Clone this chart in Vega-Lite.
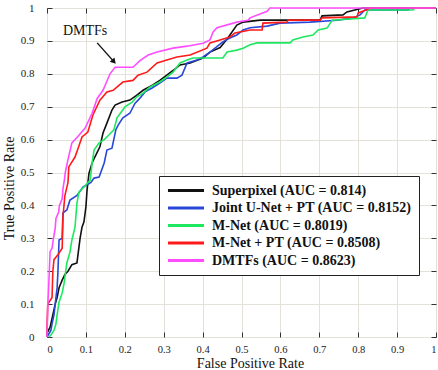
{
  "$schema": "https://vega.github.io/schema/vega-lite/v6.json",
  "width": 389,
  "height": 329,
  "autosize": "none",
  "padding": {"left": 47, "top": 8, "right": 2, "bottom": 33},
  "background": "white",
  "config": {
    "font": "Liberation Serif",
    "view": {"stroke": "#3a3a3a", "strokeWidth": 1},
    "axis": {
      "labelFont": "Liberation Serif",
      "labelFontSize": 10.5,
      "labelColor": "#222222",
      "titleFont": "Liberation Serif",
      "titleFontSize": 14,
      "titleFontWeight": "normal",
      "titleColor": "#111111",
      "gridColor": "#e3e1da",
      "gridOpacity": 1,
      "domain": false,
      "tickColor": "#333333",
      "tickSize": -5
    }
  },
  "resolve": {"axis": {"x": "independent", "y": "independent"}},
  "datasets": {
    "curves": [
      {"s": "Superpixel (AUC = 0.814)", "i": 0, "x": 0, "y": 0},
      {"s": "Superpixel (AUC = 0.814)", "i": 1, "x": 0, "y": 0.012},
      {"s": "Superpixel (AUC = 0.814)", "i": 2, "x": 0.008, "y": 0.03},
      {"s": "Superpixel (AUC = 0.814)", "i": 3, "x": 0.015, "y": 0.067},
      {"s": "Superpixel (AUC = 0.814)", "i": 4, "x": 0.021, "y": 0.1},
      {"s": "Superpixel (AUC = 0.814)", "i": 5, "x": 0.026, "y": 0.12},
      {"s": "Superpixel (AUC = 0.814)", "i": 6, "x": 0.031, "y": 0.15},
      {"s": "Superpixel (AUC = 0.814)", "i": 7, "x": 0.039, "y": 0.173},
      {"s": "Superpixel (AUC = 0.814)", "i": 8, "x": 0.046, "y": 0.19},
      {"s": "Superpixel (AUC = 0.814)", "i": 9, "x": 0.054, "y": 0.2},
      {"s": "Superpixel (AUC = 0.814)", "i": 10, "x": 0.064, "y": 0.22},
      {"s": "Superpixel (AUC = 0.814)", "i": 11, "x": 0.077, "y": 0.225},
      {"s": "Superpixel (AUC = 0.814)", "i": 12, "x": 0.085, "y": 0.3},
      {"s": "Superpixel (AUC = 0.814)", "i": 13, "x": 0.09, "y": 0.334},
      {"s": "Superpixel (AUC = 0.814)", "i": 14, "x": 0.095, "y": 0.35},
      {"s": "Superpixel (AUC = 0.814)", "i": 15, "x": 0.1, "y": 0.395},
      {"s": "Superpixel (AUC = 0.814)", "i": 16, "x": 0.103, "y": 0.447},
      {"s": "Superpixel (AUC = 0.814)", "i": 17, "x": 0.108, "y": 0.498},
      {"s": "Superpixel (AUC = 0.814)", "i": 18, "x": 0.116, "y": 0.529},
      {"s": "Superpixel (AUC = 0.814)", "i": 19, "x": 0.123, "y": 0.547},
      {"s": "Superpixel (AUC = 0.814)", "i": 20, "x": 0.136, "y": 0.578},
      {"s": "Superpixel (AUC = 0.814)", "i": 21, "x": 0.144, "y": 0.62},
      {"s": "Superpixel (AUC = 0.814)", "i": 22, "x": 0.154, "y": 0.65},
      {"s": "Superpixel (AUC = 0.814)", "i": 23, "x": 0.167, "y": 0.69},
      {"s": "Superpixel (AUC = 0.814)", "i": 24, "x": 0.175, "y": 0.705},
      {"s": "Superpixel (AUC = 0.814)", "i": 25, "x": 0.193, "y": 0.714},
      {"s": "Superpixel (AUC = 0.814)", "i": 26, "x": 0.213, "y": 0.72},
      {"s": "Superpixel (AUC = 0.814)", "i": 27, "x": 0.231, "y": 0.735},
      {"s": "Superpixel (AUC = 0.814)", "i": 28, "x": 0.247, "y": 0.75},
      {"s": "Superpixel (AUC = 0.814)", "i": 29, "x": 0.272, "y": 0.766},
      {"s": "Superpixel (AUC = 0.814)", "i": 30, "x": 0.29, "y": 0.78},
      {"s": "Superpixel (AUC = 0.814)", "i": 31, "x": 0.308, "y": 0.796},
      {"s": "Superpixel (AUC = 0.814)", "i": 32, "x": 0.324, "y": 0.81},
      {"s": "Superpixel (AUC = 0.814)", "i": 33, "x": 0.342, "y": 0.827},
      {"s": "Superpixel (AUC = 0.814)", "i": 34, "x": 0.368, "y": 0.833},
      {"s": "Superpixel (AUC = 0.814)", "i": 35, "x": 0.401, "y": 0.848},
      {"s": "Superpixel (AUC = 0.814)", "i": 36, "x": 0.419, "y": 0.866},
      {"s": "Superpixel (AUC = 0.814)", "i": 37, "x": 0.445, "y": 0.88},
      {"s": "Superpixel (AUC = 0.814)", "i": 38, "x": 0.463, "y": 0.906},
      {"s": "Superpixel (AUC = 0.814)", "i": 39, "x": 0.488, "y": 0.948},
      {"s": "Superpixel (AUC = 0.814)", "i": 40, "x": 0.504, "y": 0.957},
      {"s": "Superpixel (AUC = 0.814)", "i": 41, "x": 0.548, "y": 0.963},
      {"s": "Superpixel (AUC = 0.814)", "i": 42, "x": 0.702, "y": 0.963},
      {"s": "Superpixel (AUC = 0.814)", "i": 43, "x": 0.707, "y": 0.976},
      {"s": "Superpixel (AUC = 0.814)", "i": 44, "x": 0.761, "y": 0.979},
      {"s": "Superpixel (AUC = 0.814)", "i": 45, "x": 0.771, "y": 0.988},
      {"s": "Superpixel (AUC = 0.814)", "i": 46, "x": 0.812, "y": 1},
      {"s": "Superpixel (AUC = 0.814)", "i": 47, "x": 1, "y": 1},

      {"s": "Joint U-Net + PT (AUC = 0.8152)", "i": 0, "x": 0, "y": 0},
      {"s": "Joint U-Net + PT (AUC = 0.8152)", "i": 1, "x": 0.01, "y": 0.02},
      {"s": "Joint U-Net + PT (AUC = 0.8152)", "i": 2, "x": 0.013, "y": 0.04},
      {"s": "Joint U-Net + PT (AUC = 0.8152)", "i": 3, "x": 0.018, "y": 0.067},
      {"s": "Joint U-Net + PT (AUC = 0.8152)", "i": 4, "x": 0.023, "y": 0.12},
      {"s": "Joint U-Net + PT (AUC = 0.8152)", "i": 5, "x": 0.026, "y": 0.15},
      {"s": "Joint U-Net + PT (AUC = 0.8152)", "i": 6, "x": 0.028, "y": 0.195},
      {"s": "Joint U-Net + PT (AUC = 0.8152)", "i": 7, "x": 0.031, "y": 0.295},
      {"s": "Joint U-Net + PT (AUC = 0.8152)", "i": 8, "x": 0.039, "y": 0.3},
      {"s": "Joint U-Net + PT (AUC = 0.8152)", "i": 9, "x": 0.041, "y": 0.377},
      {"s": "Joint U-Net + PT (AUC = 0.8152)", "i": 10, "x": 0.051, "y": 0.386},
      {"s": "Joint U-Net + PT (AUC = 0.8152)", "i": 11, "x": 0.059, "y": 0.416},
      {"s": "Joint U-Net + PT (AUC = 0.8152)", "i": 12, "x": 0.077, "y": 0.43},
      {"s": "Joint U-Net + PT (AUC = 0.8152)", "i": 13, "x": 0.093, "y": 0.456},
      {"s": "Joint U-Net + PT (AUC = 0.8152)", "i": 14, "x": 0.113, "y": 0.47},
      {"s": "Joint U-Net + PT (AUC = 0.8152)", "i": 15, "x": 0.121, "y": 0.483},
      {"s": "Joint U-Net + PT (AUC = 0.8152)", "i": 16, "x": 0.134, "y": 0.486},
      {"s": "Joint U-Net + PT (AUC = 0.8152)", "i": 17, "x": 0.147, "y": 0.529},
      {"s": "Joint U-Net + PT (AUC = 0.8152)", "i": 18, "x": 0.154, "y": 0.568},
      {"s": "Joint U-Net + PT (AUC = 0.8152)", "i": 19, "x": 0.167, "y": 0.574},
      {"s": "Joint U-Net + PT (AUC = 0.8152)", "i": 20, "x": 0.177, "y": 0.63},
      {"s": "Joint U-Net + PT (AUC = 0.8152)", "i": 21, "x": 0.183, "y": 0.644},
      {"s": "Joint U-Net + PT (AUC = 0.8152)", "i": 22, "x": 0.195, "y": 0.666},
      {"s": "Joint U-Net + PT (AUC = 0.8152)", "i": 23, "x": 0.213, "y": 0.68},
      {"s": "Joint U-Net + PT (AUC = 0.8152)", "i": 24, "x": 0.226, "y": 0.71},
      {"s": "Joint U-Net + PT (AUC = 0.8152)", "i": 25, "x": 0.239, "y": 0.726},
      {"s": "Joint U-Net + PT (AUC = 0.8152)", "i": 26, "x": 0.252, "y": 0.745},
      {"s": "Joint U-Net + PT (AUC = 0.8152)", "i": 27, "x": 0.27, "y": 0.757},
      {"s": "Joint U-Net + PT (AUC = 0.8152)", "i": 28, "x": 0.29, "y": 0.772},
      {"s": "Joint U-Net + PT (AUC = 0.8152)", "i": 29, "x": 0.308, "y": 0.787},
      {"s": "Joint U-Net + PT (AUC = 0.8152)", "i": 30, "x": 0.334, "y": 0.787},
      {"s": "Joint U-Net + PT (AUC = 0.8152)", "i": 31, "x": 0.347, "y": 0.796},
      {"s": "Joint U-Net + PT (AUC = 0.8152)", "i": 32, "x": 0.36, "y": 0.833},
      {"s": "Joint U-Net + PT (AUC = 0.8152)", "i": 33, "x": 0.386, "y": 0.842},
      {"s": "Joint U-Net + PT (AUC = 0.8152)", "i": 34, "x": 0.401, "y": 0.851},
      {"s": "Joint U-Net + PT (AUC = 0.8152)", "i": 35, "x": 0.419, "y": 0.866},
      {"s": "Joint U-Net + PT (AUC = 0.8152)", "i": 36, "x": 0.452, "y": 0.897},
      {"s": "Joint U-Net + PT (AUC = 0.8152)", "i": 37, "x": 0.47, "y": 0.909},
      {"s": "Joint U-Net + PT (AUC = 0.8152)", "i": 38, "x": 0.488, "y": 0.918},
      {"s": "Joint U-Net + PT (AUC = 0.8152)", "i": 39, "x": 0.504, "y": 0.933},
      {"s": "Joint U-Net + PT (AUC = 0.8152)", "i": 40, "x": 0.522, "y": 0.94},
      {"s": "Joint U-Net + PT (AUC = 0.8152)", "i": 41, "x": 0.566, "y": 0.945},
      {"s": "Joint U-Net + PT (AUC = 0.8152)", "i": 42, "x": 0.599, "y": 0.954},
      {"s": "Joint U-Net + PT (AUC = 0.8152)", "i": 43, "x": 0.676, "y": 0.957},
      {"s": "Joint U-Net + PT (AUC = 0.8152)", "i": 44, "x": 0.746, "y": 0.963},
      {"s": "Joint U-Net + PT (AUC = 0.8152)", "i": 45, "x": 0.787, "y": 0.97},
      {"s": "Joint U-Net + PT (AUC = 0.8152)", "i": 46, "x": 0.805, "y": 0.979},
      {"s": "Joint U-Net + PT (AUC = 0.8152)", "i": 47, "x": 0.812, "y": 0.988},
      {"s": "Joint U-Net + PT (AUC = 0.8152)", "i": 48, "x": 0.817, "y": 0.994},
      {"s": "Joint U-Net + PT (AUC = 0.8152)", "i": 49, "x": 0.928, "y": 0.994},
      {"s": "Joint U-Net + PT (AUC = 0.8152)", "i": 50, "x": 0.933, "y": 1},
      {"s": "Joint U-Net + PT (AUC = 0.8152)", "i": 51, "x": 1, "y": 1},

      {"s": "M-Net (AUC = 0.8019)", "i": 0, "x": 0.005, "y": 0},
      {"s": "M-Net (AUC = 0.8019)", "i": 1, "x": 0.01, "y": 0.006},
      {"s": "M-Net (AUC = 0.8019)", "i": 2, "x": 0.018, "y": 0.02},
      {"s": "M-Net (AUC = 0.8019)", "i": 3, "x": 0.023, "y": 0.04},
      {"s": "M-Net (AUC = 0.8019)", "i": 4, "x": 0.026, "y": 0.067},
      {"s": "M-Net (AUC = 0.8019)", "i": 5, "x": 0.031, "y": 0.106},
      {"s": "M-Net (AUC = 0.8019)", "i": 6, "x": 0.039, "y": 0.134},
      {"s": "M-Net (AUC = 0.8019)", "i": 7, "x": 0.044, "y": 0.164},
      {"s": "M-Net (AUC = 0.8019)", "i": 8, "x": 0.051, "y": 0.225},
      {"s": "M-Net (AUC = 0.8019)", "i": 9, "x": 0.059, "y": 0.258},
      {"s": "M-Net (AUC = 0.8019)", "i": 10, "x": 0.064, "y": 0.295},
      {"s": "M-Net (AUC = 0.8019)", "i": 11, "x": 0.072, "y": 0.334},
      {"s": "M-Net (AUC = 0.8019)", "i": 12, "x": 0.077, "y": 0.407},
      {"s": "M-Net (AUC = 0.8019)", "i": 13, "x": 0.082, "y": 0.44},
      {"s": "M-Net (AUC = 0.8019)", "i": 14, "x": 0.095, "y": 0.456},
      {"s": "M-Net (AUC = 0.8019)", "i": 15, "x": 0.111, "y": 0.477},
      {"s": "M-Net (AUC = 0.8019)", "i": 16, "x": 0.116, "y": 0.529},
      {"s": "M-Net (AUC = 0.8019)", "i": 17, "x": 0.121, "y": 0.568},
      {"s": "M-Net (AUC = 0.8019)", "i": 18, "x": 0.134, "y": 0.59},
      {"s": "M-Net (AUC = 0.8019)", "i": 19, "x": 0.147, "y": 0.6},
      {"s": "M-Net (AUC = 0.8019)", "i": 20, "x": 0.159, "y": 0.614},
      {"s": "M-Net (AUC = 0.8019)", "i": 21, "x": 0.172, "y": 0.63},
      {"s": "M-Net (AUC = 0.8019)", "i": 22, "x": 0.18, "y": 0.666},
      {"s": "M-Net (AUC = 0.8019)", "i": 23, "x": 0.201, "y": 0.7},
      {"s": "M-Net (AUC = 0.8019)", "i": 24, "x": 0.219, "y": 0.714},
      {"s": "M-Net (AUC = 0.8019)", "i": 25, "x": 0.231, "y": 0.73},
      {"s": "M-Net (AUC = 0.8019)", "i": 26, "x": 0.247, "y": 0.741},
      {"s": "M-Net (AUC = 0.8019)", "i": 27, "x": 0.265, "y": 0.76},
      {"s": "M-Net (AUC = 0.8019)", "i": 28, "x": 0.29, "y": 0.775},
      {"s": "M-Net (AUC = 0.8019)", "i": 29, "x": 0.308, "y": 0.79},
      {"s": "M-Net (AUC = 0.8019)", "i": 30, "x": 0.324, "y": 0.805},
      {"s": "M-Net (AUC = 0.8019)", "i": 31, "x": 0.342, "y": 0.833},
      {"s": "M-Net (AUC = 0.8019)", "i": 32, "x": 0.36, "y": 0.842},
      {"s": "M-Net (AUC = 0.8019)", "i": 33, "x": 0.375, "y": 0.848},
      {"s": "M-Net (AUC = 0.8019)", "i": 34, "x": 0.452, "y": 0.848},
      {"s": "M-Net (AUC = 0.8019)", "i": 35, "x": 0.463, "y": 0.866},
      {"s": "M-Net (AUC = 0.8019)", "i": 36, "x": 0.488, "y": 0.872},
      {"s": "M-Net (AUC = 0.8019)", "i": 37, "x": 0.504, "y": 0.878},
      {"s": "M-Net (AUC = 0.8019)", "i": 38, "x": 0.522, "y": 0.888},
      {"s": "M-Net (AUC = 0.8019)", "i": 39, "x": 0.54, "y": 0.894},
      {"s": "M-Net (AUC = 0.8019)", "i": 40, "x": 0.625, "y": 0.894},
      {"s": "M-Net (AUC = 0.8019)", "i": 41, "x": 0.632, "y": 0.903},
      {"s": "M-Net (AUC = 0.8019)", "i": 42, "x": 0.658, "y": 0.912},
      {"s": "M-Net (AUC = 0.8019)", "i": 43, "x": 0.684, "y": 0.918},
      {"s": "M-Net (AUC = 0.8019)", "i": 44, "x": 0.697, "y": 0.933},
      {"s": "M-Net (AUC = 0.8019)", "i": 45, "x": 0.72, "y": 0.939},
      {"s": "M-Net (AUC = 0.8019)", "i": 46, "x": 0.733, "y": 0.963},
      {"s": "M-Net (AUC = 0.8019)", "i": 47, "x": 0.817, "y": 0.97},
      {"s": "M-Net (AUC = 0.8019)", "i": 48, "x": 0.825, "y": 0.994},
      {"s": "M-Net (AUC = 0.8019)", "i": 49, "x": 0.941, "y": 0.994},
      {"s": "M-Net (AUC = 0.8019)", "i": 50, "x": 0.946, "y": 1},
      {"s": "M-Net (AUC = 0.8019)", "i": 51, "x": 1, "y": 1},

      {"s": "M-Net + PT (AUC = 0.8508)", "i": 0, "x": 0, "y": 0},
      {"s": "M-Net + PT (AUC = 0.8508)", "i": 1, "x": 0, "y": 0.027},
      {"s": "M-Net + PT (AUC = 0.8508)", "i": 2, "x": 0.002, "y": 0.1},
      {"s": "M-Net + PT (AUC = 0.8508)", "i": 3, "x": 0.013, "y": 0.12},
      {"s": "M-Net + PT (AUC = 0.8508)", "i": 4, "x": 0.015, "y": 0.2},
      {"s": "M-Net + PT (AUC = 0.8508)", "i": 5, "x": 0.018, "y": 0.235},
      {"s": "M-Net + PT (AUC = 0.8508)", "i": 6, "x": 0.028, "y": 0.25},
      {"s": "M-Net + PT (AUC = 0.8508)", "i": 7, "x": 0.039, "y": 0.27},
      {"s": "M-Net + PT (AUC = 0.8508)", "i": 8, "x": 0.041, "y": 0.365},
      {"s": "M-Net + PT (AUC = 0.8508)", "i": 9, "x": 0.046, "y": 0.43},
      {"s": "M-Net + PT (AUC = 0.8508)", "i": 10, "x": 0.054, "y": 0.47},
      {"s": "M-Net + PT (AUC = 0.8508)", "i": 11, "x": 0.056, "y": 0.517},
      {"s": "M-Net + PT (AUC = 0.8508)", "i": 12, "x": 0.072, "y": 0.547},
      {"s": "M-Net + PT (AUC = 0.8508)", "i": 13, "x": 0.08, "y": 0.574},
      {"s": "M-Net + PT (AUC = 0.8508)", "i": 14, "x": 0.09, "y": 0.608},
      {"s": "M-Net + PT (AUC = 0.8508)", "i": 15, "x": 0.105, "y": 0.623},
      {"s": "M-Net + PT (AUC = 0.8508)", "i": 16, "x": 0.118, "y": 0.675},
      {"s": "M-Net + PT (AUC = 0.8508)", "i": 17, "x": 0.136, "y": 0.72},
      {"s": "M-Net + PT (AUC = 0.8508)", "i": 18, "x": 0.154, "y": 0.745},
      {"s": "M-Net + PT (AUC = 0.8508)", "i": 19, "x": 0.17, "y": 0.75},
      {"s": "M-Net + PT (AUC = 0.8508)", "i": 20, "x": 0.195, "y": 0.775},
      {"s": "M-Net + PT (AUC = 0.8508)", "i": 21, "x": 0.221, "y": 0.78},
      {"s": "M-Net + PT (AUC = 0.8508)", "i": 22, "x": 0.234, "y": 0.796},
      {"s": "M-Net + PT (AUC = 0.8508)", "i": 23, "x": 0.257, "y": 0.805},
      {"s": "M-Net + PT (AUC = 0.8508)", "i": 24, "x": 0.283, "y": 0.833},
      {"s": "M-Net + PT (AUC = 0.8508)", "i": 25, "x": 0.308, "y": 0.842},
      {"s": "M-Net + PT (AUC = 0.8508)", "i": 26, "x": 0.334, "y": 0.851},
      {"s": "M-Net + PT (AUC = 0.8508)", "i": 27, "x": 0.368, "y": 0.857},
      {"s": "M-Net + PT (AUC = 0.8508)", "i": 28, "x": 0.411, "y": 0.878},
      {"s": "M-Net + PT (AUC = 0.8508)", "i": 29, "x": 0.419, "y": 0.894},
      {"s": "M-Net + PT (AUC = 0.8508)", "i": 30, "x": 0.445, "y": 0.903},
      {"s": "M-Net + PT (AUC = 0.8508)", "i": 31, "x": 0.47, "y": 0.912},
      {"s": "M-Net + PT (AUC = 0.8508)", "i": 32, "x": 0.483, "y": 0.924},
      {"s": "M-Net + PT (AUC = 0.8508)", "i": 33, "x": 0.522, "y": 0.933},
      {"s": "M-Net + PT (AUC = 0.8508)", "i": 34, "x": 0.553, "y": 0.933},
      {"s": "M-Net + PT (AUC = 0.8508)", "i": 35, "x": 0.555, "y": 0.954},
      {"s": "M-Net + PT (AUC = 0.8508)", "i": 36, "x": 0.617, "y": 0.957},
      {"s": "M-Net + PT (AUC = 0.8508)", "i": 37, "x": 0.62, "y": 0.963},
      {"s": "M-Net + PT (AUC = 0.8508)", "i": 38, "x": 0.702, "y": 0.963},
      {"s": "M-Net + PT (AUC = 0.8508)", "i": 39, "x": 0.707, "y": 0.97},
      {"s": "M-Net + PT (AUC = 0.8508)", "i": 40, "x": 0.797, "y": 0.973},
      {"s": "M-Net + PT (AUC = 0.8508)", "i": 41, "x": 0.8, "y": 0.985},
      {"s": "M-Net + PT (AUC = 0.8508)", "i": 42, "x": 0.82, "y": 0.994},
      {"s": "M-Net + PT (AUC = 0.8508)", "i": 43, "x": 0.83, "y": 1},
      {"s": "M-Net + PT (AUC = 0.8508)", "i": 44, "x": 1, "y": 1},

      {"s": "DMTFs (AUC = 0.8623)", "i": 0, "x": 0, "y": 0},
      {"s": "DMTFs (AUC = 0.8623)", "i": 1, "x": 0.002, "y": 0.1},
      {"s": "DMTFs (AUC = 0.8623)", "i": 2, "x": 0.004, "y": 0.143},
      {"s": "DMTFs (AUC = 0.8623)", "i": 3, "x": 0.008, "y": 0.26},
      {"s": "DMTFs (AUC = 0.8623)", "i": 4, "x": 0.013, "y": 0.27},
      {"s": "DMTFs (AUC = 0.8623)", "i": 5, "x": 0.016, "y": 0.295},
      {"s": "DMTFs (AUC = 0.8623)", "i": 6, "x": 0.021, "y": 0.33},
      {"s": "DMTFs (AUC = 0.8623)", "i": 7, "x": 0.023, "y": 0.36},
      {"s": "DMTFs (AUC = 0.8623)", "i": 8, "x": 0.03, "y": 0.38},
      {"s": "DMTFs (AUC = 0.8623)", "i": 9, "x": 0.032, "y": 0.4},
      {"s": "DMTFs (AUC = 0.8623)", "i": 10, "x": 0.039, "y": 0.42},
      {"s": "DMTFs (AUC = 0.8623)", "i": 11, "x": 0.041, "y": 0.45},
      {"s": "DMTFs (AUC = 0.8623)", "i": 12, "x": 0.045, "y": 0.48},
      {"s": "DMTFs (AUC = 0.8623)", "i": 13, "x": 0.047, "y": 0.5},
      {"s": "DMTFs (AUC = 0.8623)", "i": 14, "x": 0.054, "y": 0.54},
      {"s": "DMTFs (AUC = 0.8623)", "i": 15, "x": 0.064, "y": 0.59},
      {"s": "DMTFs (AUC = 0.8623)", "i": 16, "x": 0.08, "y": 0.61},
      {"s": "DMTFs (AUC = 0.8623)", "i": 17, "x": 0.098, "y": 0.635},
      {"s": "DMTFs (AUC = 0.8623)", "i": 18, "x": 0.116, "y": 0.68},
      {"s": "DMTFs (AUC = 0.8623)", "i": 19, "x": 0.129, "y": 0.725},
      {"s": "DMTFs (AUC = 0.8623)", "i": 20, "x": 0.144, "y": 0.75},
      {"s": "DMTFs (AUC = 0.8623)", "i": 21, "x": 0.162, "y": 0.8},
      {"s": "DMTFs (AUC = 0.8623)", "i": 22, "x": 0.175, "y": 0.82},
      {"s": "DMTFs (AUC = 0.8623)", "i": 23, "x": 0.221, "y": 0.82},
      {"s": "DMTFs (AUC = 0.8623)", "i": 24, "x": 0.239, "y": 0.84},
      {"s": "DMTFs (AUC = 0.8623)", "i": 25, "x": 0.26, "y": 0.857},
      {"s": "DMTFs (AUC = 0.8623)", "i": 26, "x": 0.283, "y": 0.866},
      {"s": "DMTFs (AUC = 0.8623)", "i": 27, "x": 0.324, "y": 0.878},
      {"s": "DMTFs (AUC = 0.8623)", "i": 28, "x": 0.36, "y": 0.884},
      {"s": "DMTFs (AUC = 0.8623)", "i": 29, "x": 0.401, "y": 0.893},
      {"s": "DMTFs (AUC = 0.8623)", "i": 30, "x": 0.419, "y": 0.903},
      {"s": "DMTFs (AUC = 0.8623)", "i": 31, "x": 0.427, "y": 0.927},
      {"s": "DMTFs (AUC = 0.8623)", "i": 32, "x": 0.437, "y": 0.94},
      {"s": "DMTFs (AUC = 0.8623)", "i": 33, "x": 0.488, "y": 0.957},
      {"s": "DMTFs (AUC = 0.8623)", "i": 34, "x": 0.517, "y": 0.963},
      {"s": "DMTFs (AUC = 0.8623)", "i": 35, "x": 0.522, "y": 0.97},
      {"s": "DMTFs (AUC = 0.8623)", "i": 36, "x": 0.566, "y": 0.99},
      {"s": "DMTFs (AUC = 0.8623)", "i": 37, "x": 0.573, "y": 1},
      {"s": "DMTFs (AUC = 0.8623)", "i": 38, "x": 1, "y": 1}
    ],
    "note": [
      {"label": "DMTFs", "tx": 0.098, "ty": 0.93, "ax": 0.129, "ay": 0.894, "bx": 0.172, "by": 0.837}
    ]
  },
  "layer": [
    {
      "data": {"name": "curves"},
      "mark": {"type": "line", "strokeWidth": 1.6},
      "encoding": {
        "x": {
          "field": "x", "type": "quantitative",
          "scale": {"domain": [0, 1], "nice": false, "zero": false},
          "axis": {"orient": "bottom", "title": "False Positive Rate", "values": [0, 0.1, 0.2, 0.3, 0.4, 0.5, 0.6, 0.7, 0.8, 0.9, 1], "format": "~g", "labelPadding": 12, "titlePadding": 2, "titleX": 203}
        },
        "y": {
          "field": "y", "type": "quantitative",
          "scale": {"domain": [0, 1], "nice": false, "zero": false},
          "axis": {"orient": "left", "title": "True Positive Rate", "values": [0, 0.1, 0.2, 0.3, 0.4, 0.5, 0.6, 0.7, 0.8, 0.9, 1], "format": "~g", "labelPadding": 18, "titlePadding": 4, "titleY": 180, "labelFontSize": 11}
        },
        "color": {
          "field": "s", "type": "nominal",
          "scale": {
            "domain": ["Superpixel (AUC = 0.814)", "Joint U-Net + PT (AUC = 0.8152)", "M-Net (AUC = 0.8019)", "M-Net + PT (AUC = 0.8508)", "DMTFs (AUC = 0.8623)"],
            "range": ["#111111", "#2a48d8", "#1ee860", "#ff1a1a", "#ff4dff"]
          },
          "legend": {
            "title": null,
            "orient": "none",
            "legendX": 112,
            "legendY": 168,
            "fillColor": "white",
            "strokeColor": "#222222",
            "padding": 7,
            "symbolType": "stroke",
            "symbolSize": 1300,
            "symbolStrokeWidth": 3,
            "clipHeight": 15,
            "rowPadding": 2.5,
            "labelOffset": 6,
            "labelFont": "Liberation Serif",
            "labelFontSize": 14,
            "labelFontWeight": "bold",
            "labelColor": "#111111",
            "labelLimit": 400
          }
        },
        "order": {"field": "i", "type": "quantitative"}
      }
    },
    {
      "data": {"name": "note"},
      "mark": {"type": "text", "font": "Liberation Serif", "fontSize": 14, "color": "#111111"},
      "encoding": {
        "x": {"field": "tx", "type": "quantitative", "axis": {"orient": "top", "labels": false, "title": null, "grid": false, "values": [0, 0.1, 0.2, 0.3, 0.4, 0.5, 0.6, 0.7, 0.8, 0.9, 1]}},
        "y": {"field": "ty", "type": "quantitative", "axis": {"orient": "right", "labels": false, "title": null, "grid": false, "values": [0, 0.1, 0.2, 0.3, 0.4, 0.5, 0.6, 0.7, 0.8, 0.9, 1]}},
        "text": {"field": "label"}
      }
    },
    {
      "data": {"name": "note"},
      "mark": {"type": "rule", "strokeWidth": 1.4, "color": "#111111"},
      "encoding": {
        "x": {"field": "ax", "type": "quantitative", "axis": null},
        "y": {"field": "ay", "type": "quantitative", "axis": null},
        "x2": {"field": "bx"},
        "y2": {"field": "by"}
      }
    },
    {
      "data": {"name": "note"},
      "mark": {"type": "point", "shape": "triangle-up", "filled": true, "size": 40, "angle": 138, "color": "#111111", "opacity": 1},
      "encoding": {
        "x": {"field": "bx", "type": "quantitative", "axis": null},
        "y": {"field": "by", "type": "quantitative", "axis": null}
      }
    }
  ]
}
